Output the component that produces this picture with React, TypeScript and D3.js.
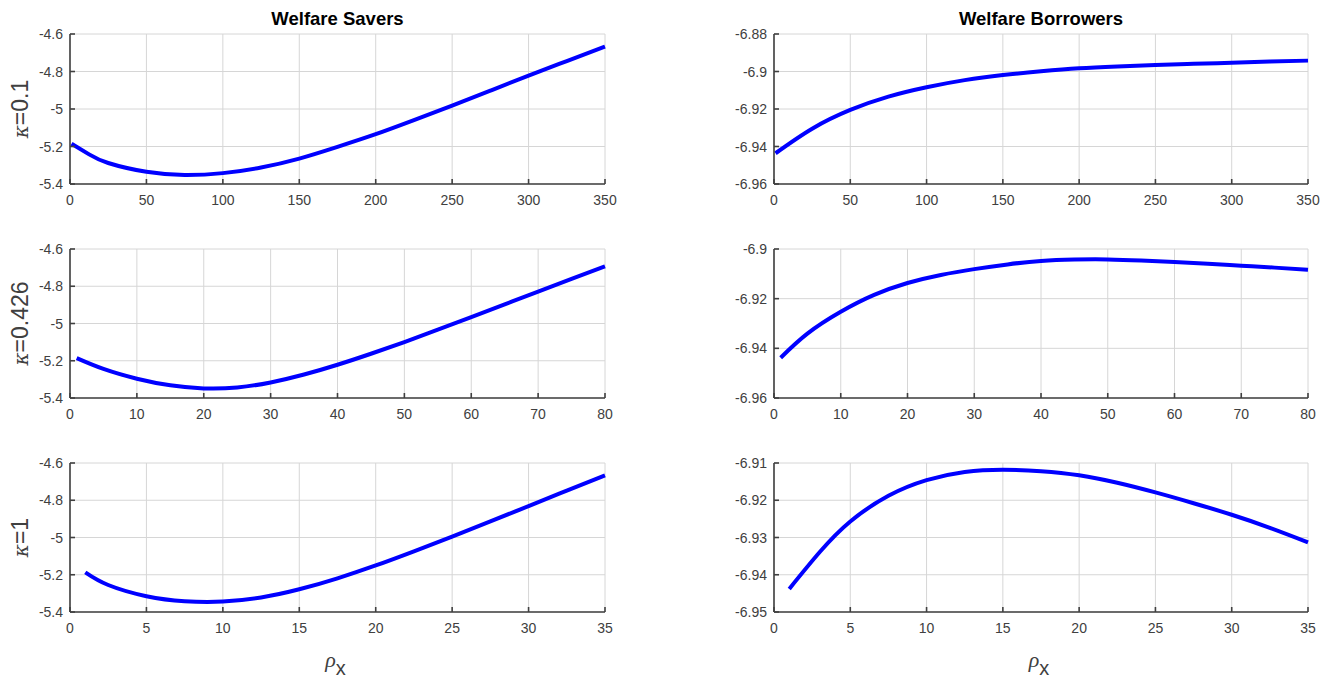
import React from "react";
import * as d3 from "d3";

// ---------- data ----------
const colTitles = ["Welfare Savers", "Welfare Borrowers"];
const rowLabels = ["0.1", "0.426", "1"];

// x ticks per row
const xTicksRow1 = [0, 50, 100, 150, 200, 250, 300, 350];
const xTicksRow2 = [0, 10, 20, 30, 40, 50, 60, 70, 80];
const xTicksRow3 = [0, 5, 10, 15, 20, 25, 30, 35];

// y ticks
const yTicksSavers = [-5.4, -5.2, -5, -4.8, -4.6];
const yTicksBorrow1 = [-6.96, -6.94, -6.92, -6.9, -6.88];
const yTicksBorrow2 = [-6.96, -6.94, -6.92, -6.9];
const yTicksBorrow3 = [-6.95, -6.94, -6.93, -6.92, -6.91];

// Savers, kappa = 0.1
const rhoS1 = [1, 12.5, 25, 50, 75, 100, 125, 150, 175, 200, 225, 250, 275, 300, 325, 350];
const welfS1 = [-5.185, -5.242, -5.288, -5.335, -5.352, -5.342, -5.312, -5.2645, -5.202, -5.1345, -5.0595, -4.982, -4.902, -4.822, -4.7445, -4.667];

// Savers, kappa = 0.426
const rhoS2 = [1, 5, 10, 15, 20, 25, 30, 35, 40, 45, 50, 55, 60, 65, 70, 75, 80];
const welfS2 = [-5.186, -5.244, -5.2965, -5.332, -5.3485, -5.3435, -5.3165, -5.274, -5.2215, -5.1625, -5.0995, -5.0335, -4.9655, -4.897, -4.8285, -4.7605, -4.6935];

// Savers, kappa = 1
const rhoS3 = [1, 2.5, 5, 7.5, 10, 12.5, 15, 17.5, 20, 22.5, 25, 27.5, 30, 32.5, 35];
const welfS3 = [-5.187, -5.255, -5.315, -5.342, -5.344, -5.322, -5.278, -5.219, -5.15, -5.074, -4.995, -4.9135, -4.831, -4.7485, -4.666];

// Borrowers, kappa = 0.1
const rhoB1 = [1, 25, 50, 75, 100, 125, 150, 175, 200, 225, 250, 275, 300, 325, 350];
const welfB1 = [-6.9436, -6.9305, -6.9205, -6.9134, -6.9084, -6.9046, -6.9019, -6.8999, -6.8983, -6.8973, -6.8965, -6.8959, -6.8953, -6.8947, -6.8942];

// Borrowers, kappa = 0.426
const rhoB2 = [1, 5, 10, 15, 20, 25, 30, 35, 40, 45, 50, 55, 60, 65, 70, 75, 80];
const welfB2 = [-6.9438, -6.9341, -6.9253, -6.9185, -6.9137, -6.91045, -6.9081, -6.9062, -6.9048, -6.90425, -6.9042, -6.9046, -6.9052, -6.9059, -6.9067, -6.9075, -6.9084];

// Borrowers, kappa = 1
const rhoB3 = [1, 3, 5, 7.5, 10, 12.5, 15, 17.5, 20, 22.5, 25, 27.5, 30, 32.5, 35];
const welfB3 = [-6.9438, -6.9339, -6.9257, -6.9188, -6.9146, -6.9124, -6.9118, -6.9122, -6.9133, -6.9153, -6.9179, -6.9208, -6.9239, -6.9274, -6.9313];

// ---------- layout ----------
const W = 1338;
const H = 684;
const colX = [
  [70, 605],
  [774, 1308],
];
const rowY = [
  [34, 184],
  [249, 398],
  [463, 612],
];

const FONT = "'Liberation Sans', Arial, Helvetica, sans-serif";
const AXIS_COLOR = "#404040";
const GRID_COLOR = "#d6d6d6";

type PanelDef = {
  col: number;
  row: number;
  xs: number[];
  ys: number[];
  xTicks: number[];
  yTicks: number[];
};

const panels: PanelDef[] = [
  { col: 0, row: 0, xs: rhoS1, ys: welfS1, xTicks: xTicksRow1, yTicks: yTicksSavers },
  { col: 0, row: 1, xs: rhoS2, ys: welfS2, xTicks: xTicksRow2, yTicks: yTicksSavers },
  { col: 0, row: 2, xs: rhoS3, ys: welfS3, xTicks: xTicksRow3, yTicks: yTicksSavers },
  { col: 1, row: 0, xs: rhoB1, ys: welfB1, xTicks: xTicksRow1, yTicks: yTicksBorrow1 },
  { col: 1, row: 1, xs: rhoB2, ys: welfB2, xTicks: xTicksRow2, yTicks: yTicksBorrow2 },
  { col: 1, row: 2, xs: rhoB3, ys: welfB3, xTicks: xTicksRow3, yTicks: yTicksBorrow3 },
];

function Panel({ p }: { p: PanelDef }) {
  const [x0, x1] = colX[p.col];
  const [y0, y1] = rowY[p.row];
  const x = d3
    .scaleLinear()
    .domain([p.xTicks[0], p.xTicks[p.xTicks.length - 1]])
    .range([x0, x1]);
  const y = d3
    .scaleLinear()
    .domain([p.yTicks[0], p.yTicks[p.yTicks.length - 1]])
    .range([y1, y0]);
  const pts = p.xs.map((v, i) => [v, p.ys[i]] as [number, number]);
  const line = d3
    .line<[number, number]>()
    .x((d) => x(d[0]))
    .y((d) => y(d[1]))
    .curve(d3.curveNatural);
  const tickLen = 5;
  return (
    <g>
      {p.xTicks.map((t) => (
        <line key={"gx" + t} x1={x(t)} x2={x(t)} y1={y0} y2={y1} stroke={GRID_COLOR} strokeWidth={1} />
      ))}
      {p.yTicks.map((t) => (
        <line key={"gy" + t} x1={x0} x2={x1} y1={y(t)} y2={y(t)} stroke={GRID_COLOR} strokeWidth={1} />
      ))}
      <path d={line(pts) || ""} fill="none" stroke="#0000ff" strokeWidth={4} strokeLinejoin="round" />
      <line x1={x0} x2={x1} y1={y1} y2={y1} stroke={AXIS_COLOR} strokeWidth={1.6} />
      <line x1={x0} x2={x0} y1={y0} y2={y1} stroke={AXIS_COLOR} strokeWidth={1.6} />
      {p.xTicks.map((t) => (
        <g key={"tx" + t}>
          <line x1={x(t)} x2={x(t)} y1={y1} y2={y1 - tickLen} stroke={AXIS_COLOR} strokeWidth={1.6} />
          <text x={x(t)} y={y1 + 21} textAnchor="middle" fontSize={14} fill={AXIS_COLOR} fontFamily={FONT}>
            {String(t)}
          </text>
        </g>
      ))}
      {p.yTicks.map((t) => (
        <g key={"ty" + t}>
          <line x1={x0} x2={x0 + tickLen} y1={y(t)} y2={y(t)} stroke={AXIS_COLOR} strokeWidth={1.6} />
          <text x={x0 - 7} y={y(t) + 5} textAnchor="end" fontSize={14} fill={AXIS_COLOR} fontFamily={FONT}>
            {String(t)}
          </text>
        </g>
      ))}
    </g>
  );
}

export default function App() {
  return (
    <svg
      width={W}
      height={H}
      style={{ position: "absolute", left: 0, top: 0, background: "#fff" }}
    >
      <rect x={0} y={0} width={W} height={H} fill="#fff" />
      {panels.map((p, i) => (
        <Panel key={i} p={p} />
      ))}
      {colTitles.map((t, i) => (
        <text
          key={t}
          x={(colX[i][0] + colX[i][1]) / 2}
          y={25}
          textAnchor="middle"
          fontSize={18.5}
          fontWeight="bold"
          fill="#000"
          fontFamily={FONT}
        >
          {t}
        </text>
      ))}
      {rowLabels.map((r, i) => {
        const cy = (rowY[i][0] + rowY[i][1]) / 2;
        return (
          <text
            key={r}
            transform={`translate(28,${cy}) rotate(-90)`}
            textAnchor="middle"
            fontSize={23}
            fill={AXIS_COLOR}
            fontFamily={FONT}
          >
            <tspan fontStyle="italic" fontFamily="'DejaVu Serif', 'Liberation Serif', serif" fontSize={20}>
              κ
            </tspan>
            <tspan>={r}</tspan>
          </text>
        );
      })}
      {colX.map((c, i) => (
        <text
          key={"rx" + i}
          x={(c[0] + c[1]) / 2 - 2}
          y={667}
          textAnchor="middle"
          fontSize={22}
          fill={AXIS_COLOR}
          fontFamily={FONT}
        >
          <tspan fontStyle="italic" fontFamily="'Liberation Serif', 'DejaVu Serif', serif">
            ρ
          </tspan>
          <tspan dy={8} fontSize={20}>
            x
          </tspan>
        </text>
      ))}
    </svg>
  );
}
